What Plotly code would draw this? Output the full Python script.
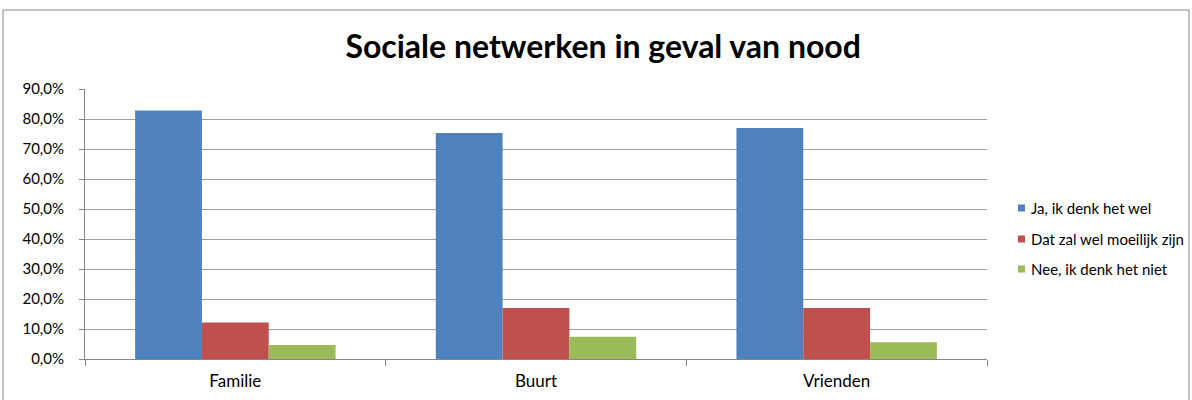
import plotly.graph_objects as go

categories = ["Familie", "Buurt", "Vrienden"]
series_names = ["Ja, ik denk het wel", "Dat zal wel moeilijk zijn", "Nee, ik denk het niet"]
ja_values = [0.828, 0.753, 0.770]
moeilijk_values = [0.122, 0.170, 0.170]
nee_values = [0.047, 0.074, 0.056]
colors = ["#4F81BD", "#C0504D", "#9BBB59"]
y_ticks = [0.0, 0.1, 0.2, 0.3, 0.4, 0.5, 0.6, 0.7, 0.8, 0.9]

FONT = "Lato, Liberation Sans, sans-serif"

# plot-area geometry in pixels (for paper-coordinate conversion)
L, R, T, B = 85, 987, 89, 359
W, H = R - L, B - T


def px(xp):
    return (xp - L) / W


def py(yp):
    return (B - yp) / H


fig = go.Figure()
for i, (name, vals) in enumerate(zip(series_names, [ja_values, moeilijk_values, nee_values])):
    fig.add_trace(go.Bar(
        x=categories, y=vals, name=name, showlegend=False,
        marker=dict(color=colors[i], line=dict(width=0)),
    ))

fig.update_layout(
    width=1192, height=400,
    margin=dict(l=L, r=1192 - R, t=T, b=400 - B),
    paper_bgcolor="white", plot_bgcolor="white",
    separators=",.",
    barmode="group", bargap=1/3, bargroupgap=0,
    showlegend=False,
    font=dict(family=FONT, size=15, color="#000000"),
    title=dict(text="<b>Sociale netwerken in geval van nood</b>",
               x=0.506, xanchor="center", y=0.8825, yanchor="middle",
               font=dict(family=FONT, size=32, color="#000000"), automargin=False),
    xaxis=dict(showline=True, linecolor="#868686", linewidth=1,
               ticks="outside", tickson="boundaries", ticklen=6, tickcolor="#868686",
               tickfont=dict(size=17), showgrid=False, ticklabelstandoff=7,
               automargin=False),
    yaxis=dict(range=[0, 0.9], tickvals=y_ticks, tickformat=".1%",
               showline=True, linecolor="#868686", linewidth=1,
               ticks="outside", ticklen=5, tickcolor="#868686",
               gridcolor="#A0A0A0", gridwidth=1, zeroline=False,
               tickfont=dict(size=15), automargin=False, ticklabelstandoff=12),
)

# manual legend (small square swatches + labels)
legend_y = [208, 239, 269]
for i, name in enumerate(series_names):
    fig.add_shape(type="rect", xref="paper", yref="paper",
                  x0=px(1018), x1=px(1025), y0=py(legend_y[i] + 3.5), y1=py(legend_y[i] - 3.5),
                  line=dict(width=0), fillcolor=colors[i])
    fig.add_annotation(xref="paper", yref="paper", x=px(1029), y=py(legend_y[i]),
                       xanchor="left", yanchor="middle", showarrow=False, text=name,
                       font=dict(family=FONT, size=15, color="#000000"))

# chart border
fig.add_shape(type="rect", xref="paper", yref="paper",
              x0=px(3), x1=px(1189), y0=py(405), y1=py(10),
              line=dict(color="#888888", width=1), fillcolor="rgba(0,0,0,0)", layer="below")

fig.write_html("out.html", config={"displayModeBar": False},
               post_script="document.body.style.margin='0';")
